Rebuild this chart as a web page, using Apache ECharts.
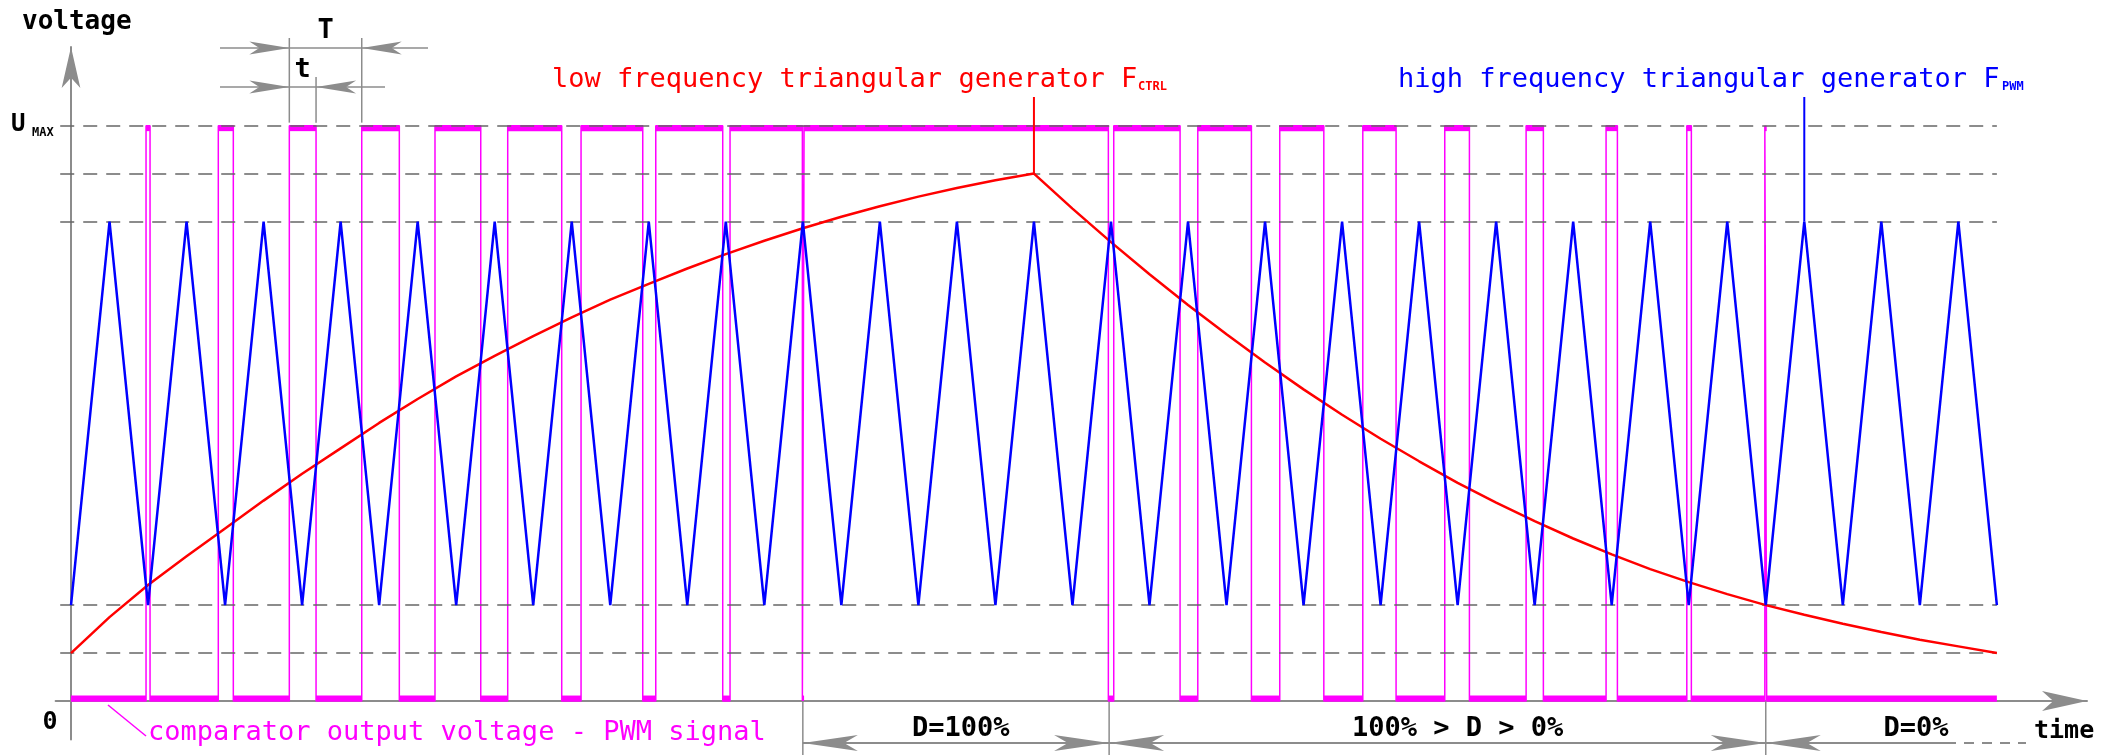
<!DOCTYPE html>
<html><head><meta charset="utf-8">
<script src="https://cdn.jsdelivr.net/npm/echarts@6/dist/echarts.min.js"></script>
<style>html,body{margin:0;padding:0;background:#fff}#c{width:2109px;height:755px}</style>
</head><body><div id="c"></div>
<script>
// time axis in PWM periods T, voltage axis in units where U_MAX = 12
const UMAX = 12;
const sampleT = [0,0.5,1,1.5,2,2.5,3,3.5,4,4.5,5,5.5,6,6.5,7,7.5,8,8.5,9,9.5,10,10.5,11,11.5,12,12.5,13,13.5,14,14.5,15,15.5,16,16.5,17,17.5,18,18.5,19,19.5,20,20.5,21,21.5,22,22.5,23,23.5,24,24.5,25];
const blueV = [2,10,2,10,2,10,2,10,2,10,2,10,2,10,2,10,2,10,2,10,2,10,2,10,2,10,2,10,2,10,2,10,2,10,2,10,2,10,2,10,2,10,2,10,2,10,2,10,2,10,2];
const redV = [1.00,1.75,2.42,3.02,3.60,4.18,4.74,5.27,5.80,6.30,6.77,7.20,7.61,8.00,8.37,8.70,9.02,9.32,9.60,9.86,10.10,10.32,10.52,10.70,10.86,11.00,
              10.27,9.57,8.90,8.26,7.65,7.06,6.50,5.97,5.47,5.00,4.55,4.14,3.75,3.39,3.06,2.75,2.48,2.23,2.00,1.80,1.61,1.44,1.28,1.14,1.00];
// comparator output toggles (starts low)
const pwmEdges = [0.974,1.026,1.912,2.107,2.834,3.181,3.774,4.262,4.725,5.319,5.669,6.370,6.621,7.422,7.591,8.460,8.555,9.494,9.516,13.466,13.536,14.397,14.627,15.323,15.691,16.263,16.769,17.201,17.833,18.153,18.889,19.113,19.927,20.074,20.975,21.034,21.988,22.012];
const tEnd = 25;
const gridLevels = [1,2,10,11,12];
const dBounds = [9.5, 13.476, 22.0];
const dLabels = ['D=100%','100% > D > 0%','D=0%'];
const dLabelT = [11.55, 18.0, 23.95];

const GRAY = '#8c8c8c';
const FONT = '"DejaVu Sans Mono", monospace';

// build tables
const blueData = sampleT.map((t,i)=>[t, blueV[i]]);
const redData = sampleT.map((t,i)=>[t, redV[i]]);
const pwmLine = [[0,0]];
const pwmSegs = [];
let st = 0, prev = 0;
pwmEdges.forEach(t => {
  pwmLine.push([t, st ? UMAX : 0]);
  pwmSegs.push([prev, t, st]);
  st = 1 - st; prev = t;
  pwmLine.push([t, st ? UMAX : 0]);
});
pwmLine.push([tEnd, st ? UMAX : 0]);
pwmSegs.push([prev, tEnd, st]);

const chart = echarts.init(document.getElementById('c'), null, {renderer:'canvas'});
chart.setOption({
  animation:false,
  backgroundColor:'#fff',
  grid:{left:55.6, right:22, top:47, bottom:15.6},
  xAxis:{type:'value', min:-0.2, max:26.17,
    axisLine:{onZero:true, lineStyle:{color:GRAY, width:2}, symbol:['none','arrow'], symbolSize:[15,45]},
    axisTick:{show:false}, axisLabel:{show:false}, splitLine:{show:false}},
  yAxis:{type:'value', min:-0.8, max:13.64,
    axisLine:{onZero:true, lineStyle:{color:GRAY, width:2}, symbol:['none','arrow'], symbolSize:[14,41]},
    axisTick:{show:false}, axisLabel:{show:false}, splitLine:{show:false}},
  series:[
    {type:'custom', z:2, data:pwmSegs, encode:{x:[0,1], y:2}, silent:true,
      renderItem:(params, api)=>{
        const s = api.value(2);
        const lvl = s ? UMAX : 0;
        const a = api.coord([api.value(0), lvl]);
        const b = api.coord([api.value(1), lvl]);
        const h = 5.5;
        return {type:'rect', shape:{x:a[0], y: s ? a[1] : a[1]-h, width:Math.max(b[0]-a[0],0), height:h}, style:{fill:'#ff00ff'}};
      }},
    {type:'line', z:3, data:pwmLine, showSymbol:false, silent:true,
      lineStyle:{color:'#ff00ff', width:1.5}},
    {type:'line', z:4, data:[], silent:true,
      markLine:{silent:true, symbol:['none','none'], label:{show:false},
        lineStyle:{color:'#666', width:2, type:[14,9], opacity:0.75},
        data: gridLevels.map(v=>[{coord:[-0.14, v]},{coord:[tEnd, v]}])}},
    {type:'line', z:5, data:redData, showSymbol:false, silent:true,
      lineStyle:{color:'#ff0000', width:2.5}},
    {type:'line', z:6, data:blueData, showSymbol:false, silent:true,
      lineStyle:{color:'#0000ff', width:2.5}}
  ]
});

const P = (t,v)=>chart.convertToPixel({gridIndex:0}, [t,v]);
const g = [];
function line(x1,y1,x2,y2,stroke,w,dash){
  g.push({type:'line', z:100, silent:true, shape:{x1,y1,x2,y2}, style:{stroke, lineWidth:w, lineDash:dash||null}});
}
function head(tipX, tipY, dir, len, wid){
  const bx = tipX - dir*len;
  g.push({type:'polygon', z:101, silent:true, shape:{points:[[tipX,tipY],[bx,tipY-wid/2],[tipX-dir*len*0.75,tipY],[bx,tipY+wid/2]]}, style:{fill:GRAY}});
}
function text(x,y,str,size,color,align,weight){
  g.push({type:'text', z:102, silent:true, x, y, style:{text:str, font:(weight||'normal')+' '+size+'px '+FONT, fill:color, align:align||'left', verticalAlign:'middle'}});
}

// axis labels
text(22, 22, 'voltage', 26, '#000', 'left', 'bold');
text(11, 125, 'U', 24, '#000', 'left', 'bold');
text(32, 133, 'MAX', 12, '#000', 'left', 'bold');
text(50, 722, '0', 25, '#000', 'center', 'bold');
text(2034, 731, 'time', 25, '#000', 'left', 'bold');

// T / t dimension
const x1 = P(pwmEdges[4],0)[0], x2 = P(pwmEdges[5],0)[0], x3 = P(pwmEdges[6],0)[0];
const yTop = P(0,UMAX)[1];
line(x1, 38, x1, yTop-3, GRAY, 1.5);
line(x3, 38, x3, yTop-3, GRAY, 1.5);
line(x2, 77, x2, yTop-3, GRAY, 1.5);
line(220, 48, 428, 48, GRAY, 1.5);
line(220, 87, 385, 87, GRAY, 1.5);
head(x1, 48, 1, 40, 13); head(x3, 48, -1, 40, 13);
head(x1, 87, 1, 40, 13); head(x2, 87, -1, 40, 13);
text((x1+x3)/2, 31, 'T', 27, '#000', 'center', 'bold');
text((x1+x2)/2, 70, 't', 27, '#000', 'center', 'bold');

// series labels with leaders
const redPeak = P(12.5, 11);
line(redPeak[0], 97, redPeak[0], redPeak[1], '#ff0000', 2);
text(552, 80, 'low frequency triangular generator F', 27, '#ff0000');
text(1138, 87, 'CTRL', 12, '#ff0000', 'left', 'bold');
const bluePeak = P(22.5, 10);
line(bluePeak[0], 97, bluePeak[0], bluePeak[1], '#0000ff', 2);
text(1398, 80, 'high frequency triangular generator F', 27, '#0000ff');
text(2002, 87, 'PWM', 12, '#0000ff', 'left', 'bold');
line(108, 705, 146, 736, '#ff00ff', 1.5);
text(148, 733, 'comparator output voltage - PWM signal', 27, '#ff00ff');

// duty cycle regions
const yAx = P(0,0)[1];
const yArr = 743;
const bx = dBounds.map(t=>P(t,0)[0]);
bx.forEach(x=>line(x, yAx+1, x, 755, GRAY, 1.5));
line(bx[0], yArr, bx[1], yArr, GRAY, 2);
head(bx[0], yArr, -1, 55, 16); head(bx[1], yArr, 1, 55, 16);
line(bx[1], yArr, bx[2], yArr, GRAY, 2);
head(bx[1], yArr, -1, 55, 16); head(bx[2], yArr, 1, 55, 16);
line(bx[2], yArr, 1946, yArr, GRAY, 2);
line(1946, yArr, 2026, yArr, GRAY, 2, [10,8]);
head(bx[2], yArr, -1, 55, 16);
dLabels.forEach((s,i)=>text(P(dLabelT[i],0)[0], 729, s, 27, '#000', 'center', 'bold'));

chart.setOption({graphic: g});
</script>
</body></html>
